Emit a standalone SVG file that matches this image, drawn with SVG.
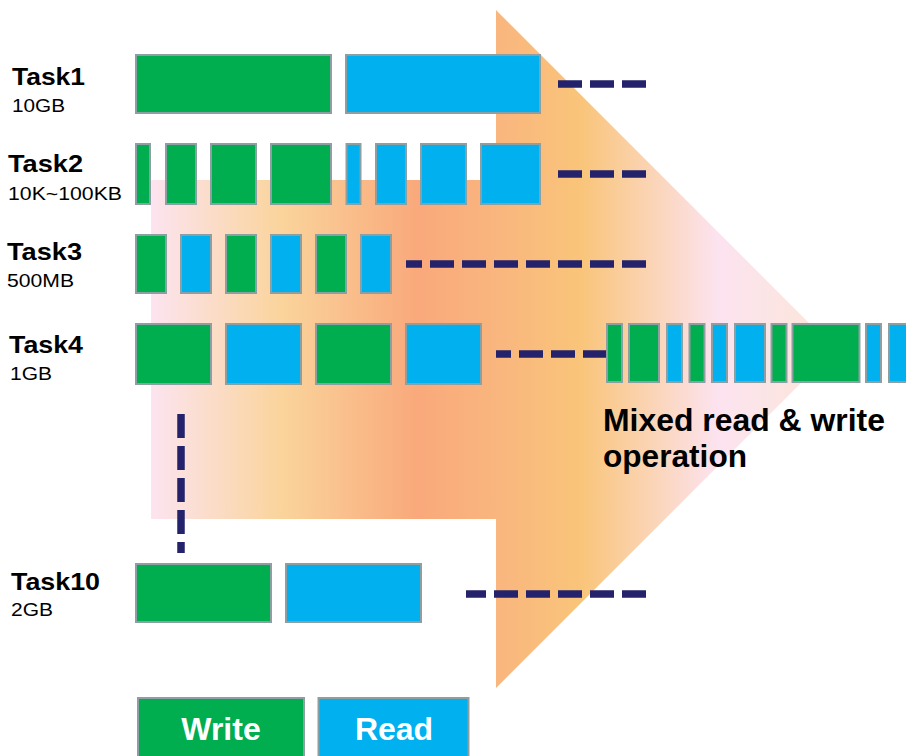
<svg xmlns="http://www.w3.org/2000/svg" width="906" height="756" viewBox="0 0 906 756">
  <defs>
    <linearGradient id="flow" gradientUnits="userSpaceOnUse" x1="151" y1="0" x2="835" y2="0">
      <stop offset="0" stop-color="#FCE4F0"/>
      <stop offset="0.19" stop-color="#FAD49C"/>
      <stop offset="0.39" stop-color="#F9A97B"/>
      <stop offset="0.50" stop-color="#F9B57E"/>
      <stop offset="0.63" stop-color="#F9C57A"/>
      <stop offset="0.83" stop-color="#FCE3F0"/>
      <stop offset="1" stop-color="#FBE6D6"/>
    </linearGradient>
  </defs>
  <style>
    .w { fill: #00AD4F; stroke: #8C9FA3; stroke-width: 2; }
    .r { fill: #00B0EF; stroke: #8C9FA3; stroke-width: 2; }
    .dash { stroke: #23226B; stroke-width: 7.5; stroke-dasharray: 24 8; fill: none; }
    .name { font-family: "Liberation Sans", Arial, sans-serif; font-weight: bold; font-size: 24px; fill: #000; }
    .size { font-family: "Liberation Sans", Arial, sans-serif; font-size: 19px; fill: #000; }
    .note { font-family: "Liberation Sans", Arial, sans-serif; font-weight: bold; font-size: 31px; fill: #000; }
    .key { font-family: "Liberation Sans", Arial, sans-serif; font-weight: bold; font-size: 32px; fill: #fff; text-anchor: middle; }
  </style>

  <rect width="906" height="756" fill="#fff"/>

  <!-- big flow arrow behind everything -->
  <path id="flow-arrow" d="M151,180 H496 V10 L835,349 L496,688 V519 H151 Z" fill="url(#flow)"/>

  <!-- dashed connectors (drawn from the right end so dashes line up at x=646) -->
  <g id="connectors">
    <line class="dash" x1="646" y1="84" x2="558" y2="84"/>
    <line class="dash" x1="646" y1="174" x2="558" y2="174"/>
    <line class="dash" x1="646" y1="264" x2="406" y2="264"/>
    <line class="dash" x1="607" y1="354" x2="496" y2="354"/>
    <line class="dash" x1="646" y1="594" x2="466" y2="594"/>
    <line class="dash" x1="181" y1="414" x2="181" y2="553"/>
  </g>

  <g id="task1">
    <text class="name" x="12" y="85" textLength="73" lengthAdjust="spacingAndGlyphs">Task1</text>
    <text class="size" x="12" y="112" textLength="53" lengthAdjust="spacingAndGlyphs">10GB</text>
    <rect class="w" x="136" y="55" width="195" height="58"/>
    <rect class="r" x="346" y="55" width="194" height="58"/>
  </g>

  <g id="task2">
    <text class="name" x="8" y="172" textLength="75" lengthAdjust="spacingAndGlyphs">Task2</text>
    <text class="size" x="8" y="200" textLength="114" lengthAdjust="spacingAndGlyphs">10K~100KB</text>
    <rect class="w" x="136" y="144" width="14" height="60"/>
    <rect class="w" x="166" y="144" width="30" height="60"/>
    <rect class="w" x="211" y="144" width="45" height="60"/>
    <rect class="w" x="271" y="144" width="60" height="60"/>
    <rect class="r" x="346.5" y="144" width="14" height="60"/>
    <rect class="r" x="376" y="144" width="30" height="60"/>
    <rect class="r" x="421" y="144" width="45" height="60"/>
    <rect class="r" x="481" y="144" width="59" height="60"/>
  </g>

  <g id="task3">
    <text class="name" x="7" y="260" textLength="75" lengthAdjust="spacingAndGlyphs">Task3</text>
    <text class="size" x="7" y="287" textLength="67" lengthAdjust="spacingAndGlyphs">500MB</text>
    <rect class="w" x="136" y="235" width="30" height="58"/>
    <rect class="r" x="181" y="235" width="30" height="58"/>
    <rect class="w" x="226" y="235" width="30" height="58"/>
    <rect class="r" x="271" y="235" width="30" height="58"/>
    <rect class="w" x="316" y="235" width="30" height="58"/>
    <rect class="r" x="361" y="235" width="30" height="58"/>
  </g>

  <g id="task4">
    <text class="name" x="9" y="353" textLength="74" lengthAdjust="spacingAndGlyphs">Task4</text>
    <text class="size" x="10" y="380" textLength="42" lengthAdjust="spacingAndGlyphs">1GB</text>
    <rect class="w" x="136" y="324" width="75" height="60"/>
    <rect class="r" x="226" y="324" width="75" height="60"/>
    <rect class="w" x="316" y="324" width="75" height="60"/>
    <rect class="r" x="406" y="324" width="75" height="60"/>
  </g>

  <g id="mixed">
    <rect class="w" x="607" y="324" width="15" height="58"/>
    <rect class="w" x="629" y="324" width="30" height="58"/>
    <rect class="r" x="667" y="324" width="15" height="58"/>
    <rect class="w" x="689.5" y="324" width="15" height="58"/>
    <rect class="r" x="712" y="324" width="15" height="58"/>
    <rect class="r" x="735" y="324" width="30" height="58"/>
    <rect class="w" x="771.5" y="324" width="15" height="58"/>
    <rect class="w" x="792.5" y="324" width="67" height="58"/>
    <rect class="r" x="866" y="324" width="15" height="58"/>
    <rect class="r" x="889" y="324" width="40" height="58"/>
    <text class="note" x="603" y="431" textLength="282" lengthAdjust="spacingAndGlyphs">Mixed read &amp; write</text>
    <text class="note" x="603" y="467" textLength="144" lengthAdjust="spacingAndGlyphs">operation</text>
  </g>

  <g id="task10">
    <text class="name" x="11" y="590" textLength="89" lengthAdjust="spacingAndGlyphs">Task10</text>
    <text class="size" x="11" y="616" textLength="42" lengthAdjust="spacingAndGlyphs">2GB</text>
    <rect class="w" x="136" y="564" width="135" height="58"/>
    <rect class="r" x="286" y="564" width="135" height="58"/>
  </g>

  <g id="legend-write">
    <rect class="w" x="138" y="698" width="166" height="72"/>
    <text class="key" x="221" y="740">Write</text>
  </g>
  <g id="legend-read">
    <rect class="r" x="318.5" y="698" width="150" height="72"/>
    <text class="key" x="394" y="740">Read</text>
  </g>
</svg>
